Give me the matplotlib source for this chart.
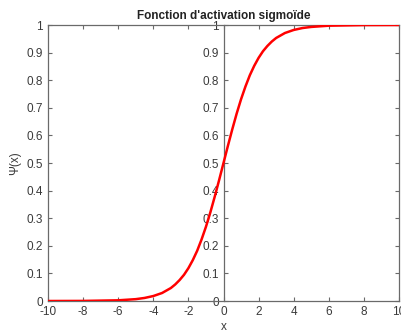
import matplotlib
matplotlib.use("Agg")
import matplotlib.pyplot as plt

# values
x_vals = [-10, -8, -6, -5, -4.5, -4, -3.5, -3, -2.75, -2.5, -2.25, -2, -1.75,
          -1.5, -1.25, -1, -0.75, -0.5, -0.25, 0, 0.25, 0.5, 0.75, 1, 1.25,
          1.5, 1.75, 2, 2.25, 2.5, 2.75, 3, 3.5, 4, 4.5, 5, 6, 8, 10]
psi_vals = [0.0, 0.0003, 0.0025, 0.0067, 0.011, 0.018, 0.029, 0.047, 0.060,
            0.076, 0.095, 0.119, 0.148, 0.182, 0.223, 0.269, 0.321, 0.378,
            0.438, 0.5, 0.562, 0.622, 0.679, 0.731, 0.777, 0.818, 0.852,
            0.881, 0.905, 0.924, 0.940, 0.953, 0.971, 0.982, 0.989, 0.993,
            0.9975, 0.9997, 1.0]

x_ticks = [-10, -8, -6, -4, -2, 0, 2, 4, 6, 8, 10]
y_ticks = [0, 0.1, 0.2, 0.3, 0.4, 0.5, 0.6, 0.7, 0.8, 0.9, 1]
y_labels = ["0", "0.1", "0.2", "0.3", "0.4", "0.5", "0.6", "0.7", "0.8",
            "0.9", "1"]

SPINE = "#6a6a6a"
TEXT = "#3a3a3a"

plt.rcParams["font.family"] = ["Liberation Sans", "DejaVu Sans"]

fig = plt.figure(figsize=(4.01, 3.31), dpi=100)
rect = [48 / 401, 1 - 301 / 331, 351 / 401, 276 / 331]

# second axes, only for the y-axis through the origin
ax0 = fig.add_axes(rect)
ax0.set_xlim(-10, 10)
ax0.set_ylim(0, 1)
ax0.patch.set_visible(False)
for k in ("top", "right", "bottom"):
    ax0.spines[k].set_visible(False)
ax0.spines["left"].set_position(("data", 0))
ax0.spines["left"].set_color(SPINE)
ax0.spines["left"].set_linewidth(0.9)
ax0.set_xticks([])
ax0.set_yticks(y_ticks)
ax0.set_yticklabels(y_labels)
ax0.tick_params(direction="in", length=3, width=0.8, colors=SPINE,
                labelcolor=TEXT, labelsize=8.5)

ax = fig.add_axes(rect)
ax.patch.set_visible(False)
ax.plot(x_vals, psi_vals, color="red", lw=1.8, zorder=3)
ax.set_xlim(-10, 10)
ax.set_ylim(0, 1)
ax.set_xticks(x_ticks)
ax.set_yticks(y_ticks)
ax.set_xticklabels([str(t) for t in x_ticks])
ax.set_yticklabels(y_labels)
ax.tick_params(direction="in", length=3, width=0.8, colors=SPINE,
               labelcolor=TEXT, labelsize=8.5, top=True, right=True)
for s in ax.spines.values():
    s.set_color(SPINE)
    s.set_linewidth(0.9)

ax.set_title("Fonction d'activation sigmoïde", fontsize=8.5, fontweight="bold",
             color="#222222", pad=4)
ax.set_xlabel("x", fontsize=8.5, color=TEXT, labelpad=2)
ax.set_ylabel("Ψ(x)", fontsize=8.5, color=TEXT, labelpad=4)

fig.savefig("out.png", dpi=100)
